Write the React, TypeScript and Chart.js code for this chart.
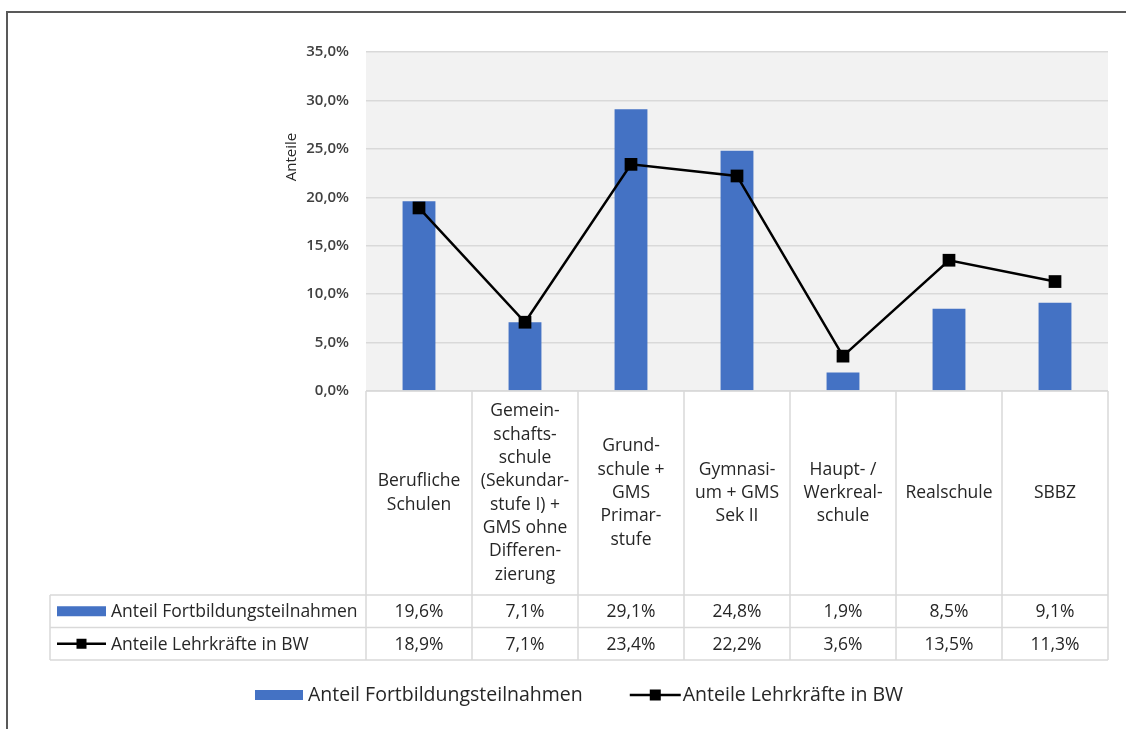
import React, { useEffect, useRef } from "react";
import { Chart, registerables } from "chart.js";

Chart.register(...registerables);

const categories: string[][] = [
  ["Berufliche", "Schulen"],
  ["Gemein-", "schafts-", "schule", "(Sekundar-", "stufe I) +", "GMS ohne", "Differen-", "zierung"],
  ["Grund-", "schule +", "GMS", "Primar-", "stufe"],
  ["Gymnasi-", "um + GMS", "Sek II"],
  ["Haupt- /", "Werkreal-", "schule"],
  ["Realschule"],
  ["SBBZ"],
];

const fortbildungValues = [19.6, 7.1, 29.1, 24.8, 1.9, 8.5, 9.1];
const lehrkraefteValues = [18.9, 7.1, 23.4, 22.2, 3.6, 13.5, 11.3];

const barLabel = "Anteil Fortbildungsteilnahmen";
const lineLabel = "Anteile Lehrkräfte in BW";
const axisTitle = "Anteile";

const BLUE = "#4472c4";
const TEXT = "#262626";
const GRID = "#d9d9d9";
const FONT = "'Open Sans', 'Liberation Sans', sans-serif";

const fmt = (v: number) => v.toFixed(1).replace(".", ",") + "%";

// geometry of the data table below the plot
const TABLE_LEFT = 50;
const HEADER_BOTTOM = 595;
const ROW_H = 32.5;

const tablePlugin = {
  id: "dataTable",
  beforeDraw(chart: any) {
    const { ctx, chartArea } = chart;
    ctx.save();
    ctx.fillStyle = "#ffffff";
    ctx.fillRect(0, 0, chart.width, chart.height);
    ctx.fillStyle = "#f2f2f2";
    ctx.fillRect(chartArea.left, chartArea.top, chartArea.right - chartArea.left, chartArea.bottom - chartArea.top);
    ctx.restore();
  },
  afterDraw(chart: any) {
    const { ctx, chartArea } = chart;
    const xs = chart.scales.x;
    const left = chartArea.left;
    const right = chartArea.right;
    const top = chartArea.bottom;
    const n = categories.length;
    const colW = (right - left) / n;
    const r1 = HEADER_BOTTOM;
    const r2 = r1 + ROW_H;
    const r3 = r2 + ROW_H;

    ctx.save();
    // frame
    ctx.strokeStyle = "#595959";
    ctx.lineWidth = 2;
    ctx.beginPath();
    ctx.moveTo(7, chart.height);
    ctx.lineTo(7, 12);
    ctx.lineTo(chart.width, 12);
    ctx.stroke();

    // table grid
    ctx.strokeStyle = GRID;
    ctx.lineWidth = 1.5;
    ctx.beginPath();
    for (let i = 0; i <= n; i++) {
      const x = left + i * colW;
      ctx.moveTo(x, top);
      ctx.lineTo(x, r3);
    }
    ctx.moveTo(left, top);
    ctx.lineTo(right, top);
    [r1, r2, r3].forEach((y) => {
      ctx.moveTo(TABLE_LEFT, y);
      ctx.lineTo(right, y);
    });
    ctx.moveTo(TABLE_LEFT, r1);
    ctx.lineTo(TABLE_LEFT, r3);
    ctx.stroke();

    // header labels
    ctx.fillStyle = TEXT;
    ctx.font = `17.5px ${FONT}`;
    ctx.textAlign = "center";
    ctx.textBaseline = "middle";
    const lh = 23.3;
    categories.forEach((lines, i) => {
      const cx = xs.getPixelForValue(i);
      const cy = (top + r1) / 2;
      const y0 = cy - ((lines.length - 1) * lh) / 2;
      lines.forEach((t, k) => ctx.fillText(t, cx, y0 + k * lh));
    });

    // values
    fortbildungValues.forEach((v, i) => ctx.fillText(fmt(v), xs.getPixelForValue(i), (r1 + r2) / 2 + 1));
    lehrkraefteValues.forEach((v, i) => ctx.fillText(fmt(v), xs.getPixelForValue(i), (r2 + r3) / 2 + 1));

    // row keys
    ctx.textAlign = "left";
    const ky1 = (r1 + r2) / 2;
    const ky2 = (r2 + r3) / 2;
    ctx.fillStyle = BLUE;
    ctx.fillRect(57, ky1 - 5, 49, 10);
    ctx.fillStyle = TEXT;
    ctx.fillText(barLabel, 111, ky1 + 1);
    drawLineKey(ctx, 57, 106, ky2, 10);
    ctx.fillStyle = TEXT;
    ctx.fillText(lineLabel, 111, ky2 + 1);

    // bottom legend
    ctx.font = `19.5px ${FONT}`;
    const ly = 695;
    const sw = 48;
    const gap = 5;
    const itemGap = 47;
    const w1 = sw + gap + ctx.measureText(barLabel).width;
    const w2 = sw + gap + ctx.measureText(lineLabel).width;
    let lx = (TABLE_LEFT + right) / 2 - (w1 + itemGap + w2) / 2;
    ctx.fillStyle = BLUE;
    ctx.fillRect(lx, ly - 5, sw, 10);
    ctx.fillStyle = TEXT;
    ctx.fillText(barLabel, lx + sw + gap, ly);
    lx += w1 + itemGap;
    drawLineKey(ctx, lx, lx + sw + 3, ly, 11);
    ctx.fillStyle = TEXT;
    ctx.fillText(lineLabel, lx + sw + gap, ly);

    // y axis title
    ctx.save();
    ctx.translate(292, 157);
    ctx.rotate(-Math.PI / 2);
    ctx.textAlign = "center";
    ctx.font = `15px ${FONT}`;
    ctx.fillText(axisTitle, 0, 0);
    ctx.restore();

    ctx.restore();
  },
};

function drawLineKey(ctx: CanvasRenderingContext2D, x0: number, x1: number, y: number, s: number) {
  ctx.strokeStyle = "#000";
  ctx.lineWidth = 2.5;
  ctx.beginPath();
  ctx.moveTo(x0, y);
  ctx.lineTo(x1, y);
  ctx.stroke();
  ctx.fillStyle = "#000";
  const cx = (x0 + x1) / 2;
  ctx.fillRect(cx - s / 2, y - s / 2, s, s);
}

export default function App() {
  const ref = useRef<HTMLCanvasElement>(null);

  useEffect(() => {
    document.body.style.margin = "0";
    const canvas = ref.current;
    if (!canvas) return;
    const chart = new Chart(canvas, {
      type: "bar",
      data: {
        labels: categories,
        datasets: [
          {
            type: "line",
            label: lineLabel,
            data: lehrkraefteValues,
            borderColor: "#000",
            backgroundColor: "#000",
            borderWidth: 2.5,
            pointStyle: "rect",
            pointRadius: 9,
            pointBackgroundColor: "#000",
            pointBorderWidth: 0,
            order: 0,
          },
          {
            type: "bar",
            label: barLabel,
            data: fortbildungValues,
            backgroundColor: BLUE,
            barPercentage: 0.31,
            categoryPercentage: 1,
            order: 1,
          },
        ],
      } as any,
      options: {
        animation: false,
        responsive: false,
        maintainAspectRatio: false,
        layout: { padding: { left: 286, top: 52, right: 18, bottom: 338 } },
        plugins: { legend: { display: false }, tooltip: { enabled: false } },
        scales: {
          x: { display: false },
          y: {
            min: 0,
            max: 35,
            afterFit: (s: any) => {
              s.width = 80;
            },
            ticks: {
              stepSize: 5,
              padding: 17,
              color: "#404040",
              font: { family: FONT, size: 15, weight: "600" },
              callback: (v: any) => fmt(Number(v)),
            },
            grid: { color: GRID, lineWidth: 1.5, drawTicks: false },
            border: { display: false },
          },
        },
      } as any,
      plugins: [tablePlugin],
    });
    return () => chart.destroy();
  }, []);

  return <canvas ref={ref} width={1126} height={729} style={{ display: "block" }} />;
}
